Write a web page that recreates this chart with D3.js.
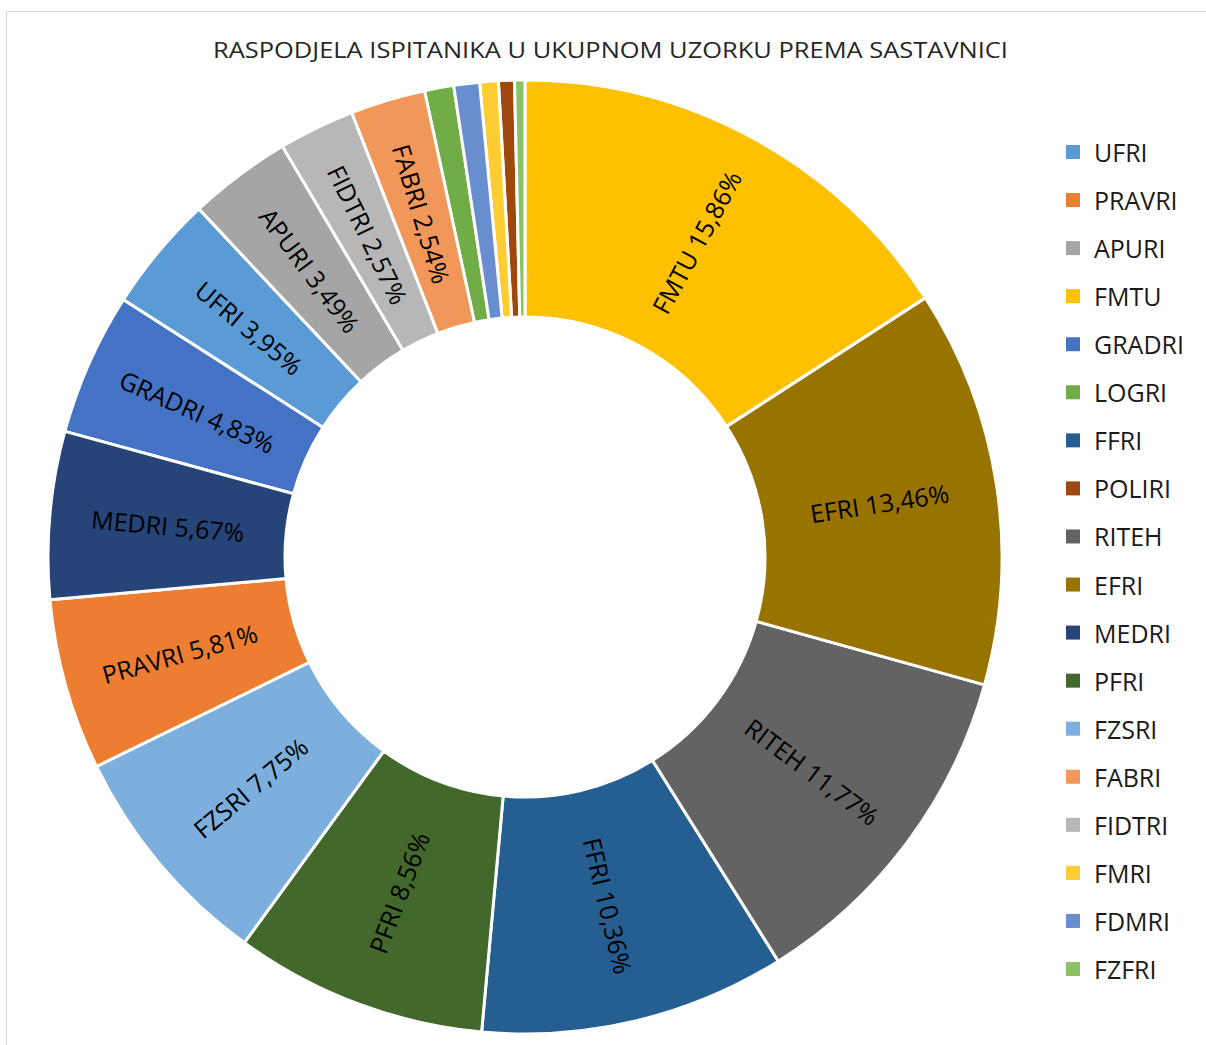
<!DOCTYPE html>
<html lang="hr">
<head>
<meta charset="utf-8">
<script src="https://d3js.org/d3.v7.min.js"></script>
<style>
  body { margin: 0; background: #fff; }
  text { font-family: "Open Sans", "Noto Sans", sans-serif; }
</style>
</head>
<body>
<script>
  var width = 1206;
  var height = 1045;

  // data, in legend order
  var names = ["UFRI", "PRAVRI", "APURI", "FMTU", "GRADRI", "LOGRI", "FFRI", "POLIRI", "RITEH",
               "EFRI", "MEDRI", "PFRI", "FZSRI", "FABRI", "FIDTRI", "FMRI", "FDMRI", "FZFRI"];
  var shares = [3.95, 5.81, 3.49, 15.86, 4.83, 0.99, 10.36, 0.54, 11.77,
                13.46, 5.67, 8.56, 7.75, 2.54, 2.57, 0.63, 0.87, 0.35];
  var colours = ["#5B9BD5", "#ED7D31", "#A5A5A5", "#FFC000", "#4472C4", "#70AD47", "#255E91", "#9E480E", "#636363",
                 "#997300", "#264478", "#43682B", "#7CAFDD", "#F1975A", "#B7B7B7", "#FFCD33", "#698ED0", "#8CC168"];
  var title = "RASPODJELA ISPITANIKA U UKUPNOM UZORKU PREMA SASTAVNICI";

  var cx = 525, cy = 557;
  var r_outer = 477, r_inner = 240;

  var rows = names.map(function(n, i) { return { name: n, value: shares[i], colour: colours[i] }; });

  var svg = d3.select("body")
              .append("svg")
              .attr("width", width)
              .attr("height", height);

  // chart border
  svg.append("rect")
     .attr("x", 6.5).attr("y", 11.5)
     .attr("width", width).attr("height", height)
     .attr("fill", "#fff")
     .attr("stroke", "#d9d9d9")
     .attr("stroke-width", 1);

  svg.append("text")
     .attr("x", 213)
     .attr("y", 58)
     .attr("font-size", 21)
     .attr("textLength", 795)
     .attr("lengthAdjust", "spacingAndGlyphs")
     .attr("fill", "#262626")
     .text(title);

  // d3.pie sorts descending by default, same as the picture
  var pie = d3.pie().value(function(d) { return d.value; });
  var arc = d3.arc().innerRadius(r_inner).outerRadius(r_outer);

  var g = svg.append("g").attr("transform", "translate(" + cx + "," + cy + ")");

  var slices = pie(rows);

  g.selectAll("path")
   .data(slices)
   .enter()
   .append("path")
   .attr("d", arc)
   .attr("fill", function(d) { return d.data.colour; })
   .attr("stroke", "#fff")
   .attr("stroke-width", 3)
   .attr("stroke-linejoin", "round");

  // labels along the radius, only for the bigger slices
  g.selectAll("text.lbl")
   .data(slices.filter(function(d) { return d.data.value >= 2; }))
   .enter()
   .append("text")
   .attr("class", "lbl")
   .attr("transform", function(d) {
       var c = arc.centroid(d);
       var a = (d.startAngle + d.endAngle) / 2 * 180 / Math.PI;
       var rot = a - 90;
       if (a > 180) rot -= 180;
       return "translate(" + c[0] + "," + c[1] + ") rotate(" + rot + ")";
   })
   .attr("text-anchor", "middle")
   .attr("dominant-baseline", "central")
   .attr("font-size", 25)
   .attr("fill", "#000")
   .text(function(d) { return d.data.name + " " + String(d.data.value.toFixed(2)).replace(".", ",") + "%"; });

  // legend
  var legend = svg.append("g");
  var leg_y = d3.scaleLinear().domain([0, names.length - 1]).range([152, 969]);

  var item = legend.selectAll("g")
                   .data(rows)
                   .enter()
                   .append("g")
                   .attr("transform", function(d, i) { return "translate(0," + leg_y(i) + ")"; });

  item.append("rect")
      .attr("x", 1066).attr("y", -7)
      .attr("width", 14).attr("height", 14)
      .attr("fill", function(d) { return d.colour; });

  item.append("text")
      .attr("x", 1094)
      .attr("y", 0)
      .attr("dominant-baseline", "central")
      .attr("font-size", 25)
      .attr("fill", "#1a1a1a")
      .text(function(d) { return d.name; });
</script>
</body>
</html>
